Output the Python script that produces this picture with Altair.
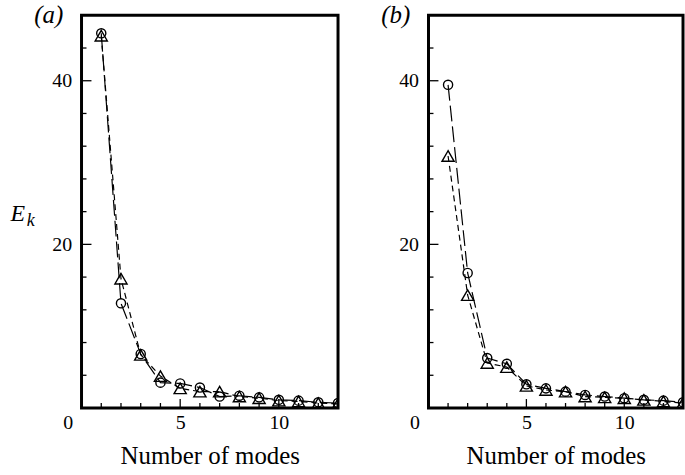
import altair as alt
import pandas as pd

# ---- data ----
modes = list(range(1, 14))
a_circle = [45.8, 12.8, 6.6, 3.1, 3.0, 2.5, 1.4, 1.5, 1.3, 1.0, 0.9, 0.7, 0.6]
a_triangle = [45.5, 15.8, 6.5, 3.9, 2.4, 2.0, 2.0, 1.4, 1.2, 0.9, 0.8, 0.6, 0.5]
b_circle = [39.5, 16.5, 6.1, 5.4, 2.9, 2.4, 2.0, 1.6, 1.4, 1.2, 1.0, 0.9, 0.7]
b_triangle = [30.8, 13.8, 5.5, 5.0, 2.7, 2.2, 2.0, 1.4, 1.3, 1.2, 1.0, 0.8, 0.6]

x_labels = [0, 5, 10]
y_labels = [20, 40]
x_major_ticks = [5, 10]
x_minor_ticks = [1, 2, 3, 4, 6, 7, 8, 9, 11, 12]
y_major_ticks = [20, 40]
y_minor_ticks = [4, 8, 12, 16, 24, 28, 32, 36, 44]
x_domain = [0, 13]
y_domain = [0, 48]

FONT = "Times New Roman, Liberation Serif, DejaVu Serif, serif"
H = 395


def panel(circ, tri, tag, width, y_extent, show_ek):
    df = pd.DataFrame({
        "mode": modes * 2,
        "E": circ + tri,
        "series": ["circle"] * len(modes) + ["triangle"] * len(modes),
    })
    xs = alt.Scale(domain=x_domain, nice=False, zero=False)
    ys = alt.Scale(domain=y_domain, nice=False, zero=False)
    xaxis = alt.Axis(values=x_labels, ticks=False, domain=False, grid=False,
                     labelFont=FONT, labelFontSize=20, labelColor="black",
                     labelPadding=5, labelFlush=False,
                     labelOffset={"expr": "datum.value == 0 ? -14 : 0"},
                     title="Number of modes", titleFont=FONT, titleFontSize=25,
                     titleFontWeight="normal", titleColor="black", titlePadding=11)
    yaxis = alt.Axis(values=y_labels, ticks=False, domain=False, grid=False,
                     labelFont=FONT, labelFontSize=20, labelColor="black",
                     labelPadding=10, title=None,
                     minExtent=y_extent, maxExtent=y_extent)
    X = alt.X("mode:Q", scale=xs, axis=xaxis)
    Y = alt.Y("E:Q", scale=ys, axis=yaxis)

    base = alt.Chart(df)
    c_line = base.transform_filter(alt.datum.series == "circle").mark_line(
        color="black", strokeWidth=1.2, strokeDash=[16, 5], clip=True).encode(x=X, y=Y)
    t_line = base.transform_filter(alt.datum.series == "triangle").mark_line(
        color="black", strokeWidth=1.2, strokeDash=[6, 4], clip=True).encode(x=X, y=Y)
    c_pts = base.transform_filter(alt.datum.series == "circle").mark_point(
        shape="circle", filled=False, color="black", size=85, strokeWidth=1.4,
        opacity=1, clip=True).encode(x=X, y=Y)
    t_pts = base.transform_filter(alt.datum.series == "triangle").mark_point(
        shape="triangle-up", filled=False, color="black", size=150, strokeWidth=1.4,
        opacity=1, clip=True).encode(x=X, y=Y)

    def yticks(vals, length):
        d = pd.DataFrame({"E": vals})
        return alt.Chart(d).mark_rule(color="black", strokeWidth=1.3).encode(
            y=alt.Y("E:Q", scale=ys, axis=yaxis), x=alt.value(0), x2=alt.value(length))

    def xticks(vals, length):
        d = pd.DataFrame({"mode": vals})
        return alt.Chart(d).mark_rule(color="black", strokeWidth=1.3).encode(
            x=alt.X("mode:Q", scale=xs, axis=xaxis), y=alt.value(H), y2=alt.value(H - length))

    tag_df = pd.DataFrame({"t": [tag]})
    tag_txt = alt.Chart(tag_df).mark_text(
        font=FONT, fontSize=25, fontStyle="italic", color="black",
        align="center", baseline="middle").encode(
        text="t:N", x=alt.value(-33), y=alt.value(0))

    layers = [yticks(y_minor_ticks, 5), yticks(y_major_ticks, 10),
              xticks(x_minor_ticks, 5), xticks(x_major_ticks, 9),
              c_line, t_line, c_pts, t_pts, tag_txt]
    if show_ek:
        e_df = pd.DataFrame({"t": ["E"]})
        k_df = pd.DataFrame({"t": ["k"]})
        e_txt = alt.Chart(e_df).mark_text(
            font=FONT, fontSize=24, fontStyle="italic", color="black",
            align="center", baseline="middle").encode(
            text="t:N", x=alt.value(-64), y=alt.value(200))
        k_txt = alt.Chart(k_df).mark_text(
            font=FONT, fontSize=18, fontStyle="italic", color="black",
            align="center", baseline="middle").encode(
            text="t:N", x=alt.value(-51), y=alt.value(207))
        layers += [e_txt, k_txt]
    return alt.layer(*layers).properties(width=width, height=H)


left = panel(a_circle, a_triangle, "(a)", 258, 80, True)
right = panel(b_circle, b_triangle, "(b)", 256, 40, False)

chart = alt.hconcat(left, right, spacing=39).properties(
    padding={"left": 0, "top": 0, "right": 0, "bottom": 0},
    background="white",
).configure_view(stroke="black", strokeWidth=3)

chart.save("out.html", embed_options={"renderer": "svg", "actions": False})
